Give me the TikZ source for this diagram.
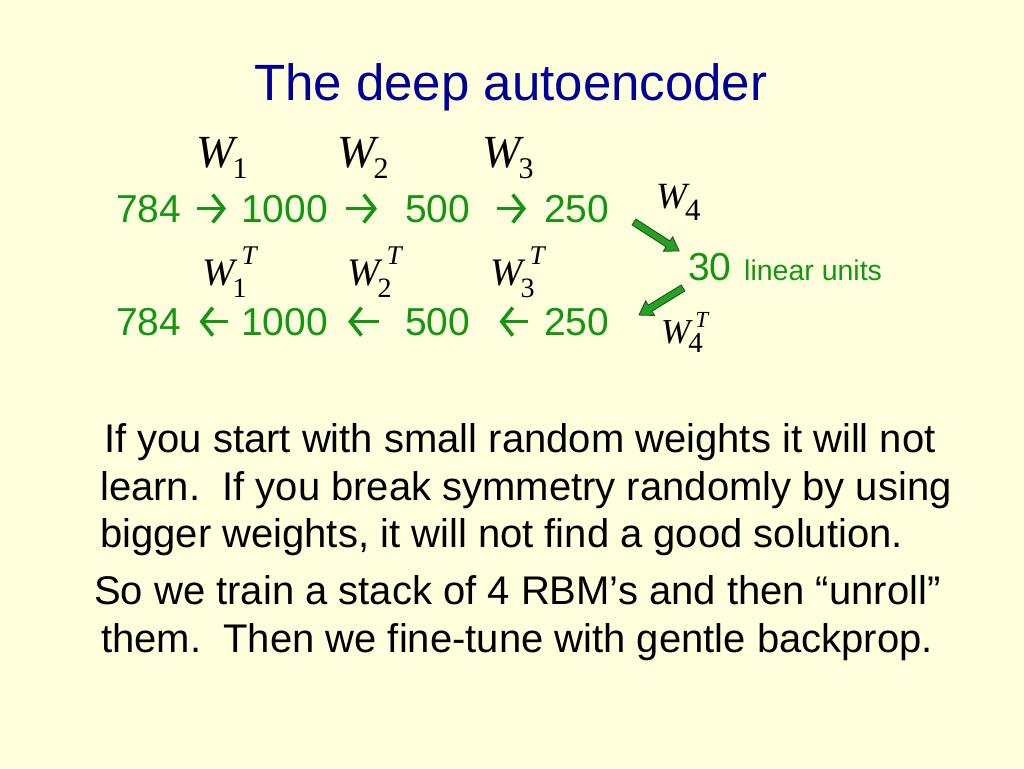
\documentclass[tikz,border=0pt]{standalone}
\usepackage{fontspec}
\setmainfont{Liberation Sans}
\newfontfamily\serif{Liberation Serif}
\usetikzlibrary{arrows.meta,calc}
\definecolor{bg}{RGB}{255,255,221}
\definecolor{ttl}{RGB}{0,0,153}
\definecolor{grn}{RGB}{20,150,20}
\definecolor{grnfill}{RGB}{40,160,40}
\definecolor{grnline}{RGB}{20,90,20}
% W label: #1 W size, #2 sub size, #3 sub drop, #4 sub, #5 sup size, #6 sup raise, #7 sup, #8 kern before sup
\newcommand{\Wm}[8]{{\serif\fontsize{#1}{#1}\selectfont\itshape W}\kern-2pt\rlap{\raisebox{-#3}{\serif\fontsize{#2}{#2}\selectfont #4}}\kern #8\raisebox{#6}{\serif\fontsize{#5}{#5}\selectfont\itshape #7}}
\newcommand{\blockarrow}[2]{%
  \coordinate (hb) at ($(#2)!13pt!(#1)$);
  \filldraw[blockarr] ($(#1)!3.5pt!90:(#2)$) -- ($(hb)!3.5pt!-90:(#1)$) -- ($(hb)!8.5pt!-90:(#1)$) -- (#2)
    -- ($(hb)!8.5pt!90:(#1)$) -- ($(hb)!3.5pt!90:(#1)$) -- ($(#1)!3.5pt!-90:(#2)$) -- cycle;}
\tikzset{
  num/.style={anchor=base west, inner sep=0pt, text=grn, font=\fontsize{39pt}{39pt}\selectfont},
  wl/.style={anchor=base west, inner sep=0pt},
  body/.style={anchor=base west, inner sep=0pt, font=\fontsize{40pt}{48pt}\selectfont},
  arr/.style={draw=grn, line width=3.8pt, -{Straight Barb[length=11pt,width=28pt,line width=3.6pt]}},
  blockarr/.style={fill=grnfill, draw=grnline, line width=0.9pt, line join=miter}
}
\begin{document}
\begin{tikzpicture}[x=1pt,y=-1pt]
\fill[bg] (0,0) rectangle (1024,768);
\useasboundingbox (0,0) rectangle (1024,768);
% title
\node[anchor=base west, inner sep=0pt, text=ttl, font=\fontsize{51pt}{51pt}\selectfont] (title) at (254,100) {The deep autoencoder};
% weight labels, top row
\node[wl] (w1) at (196,167) {\Wm{46pt}{30pt}{11pt}{1}{20pt}{0pt}{}{0pt}};
\node[wl] (w2) at (337,167) {\Wm{46pt}{30pt}{11pt}{2}{20pt}{0pt}{}{0pt}};
\node[wl] (w3) at (482,167) {\Wm{46pt}{30pt}{11pt}{3}{20pt}{0pt}{}{0pt}};
% encoder row
\node[num] (n1) at (116,222) {784};
\node[num] (n2) at (241,222) {1000};
\node[num] (n3) at (405,222) {500};
\node[num] (n4) at (544,222) {250};
\draw[arr, shorten <=16pt, shorten >=15pt] (n1.east) -- (n2.west);
\draw[arr, shorten <=18pt, shorten >=28pt] (n2.east) -- (n3.west);
\draw[arr, shorten <=27pt, shorten >=18pt] (n3.east) -- (n4.west);
% transposed labels
\node[wl] (wt1) at (202,285) {\Wm{39pt}{28pt}{12pt}{1}{27pt}{21pt}{T}{9pt}};
\node[wl] (wt2) at (347,285) {\Wm{39pt}{28pt}{12pt}{2}{27pt}{21pt}{T}{9pt}};
\node[wl] (wt3) at (490,285) {\Wm{39pt}{28pt}{12pt}{3}{27pt}{21pt}{T}{9pt}};
% decoder row
\node[num] (m1) at (116,335) {784};
\node[num] (m2) at (241,335) {1000};
\node[num] (m3) at (405,335) {500};
\node[num] (m4) at (544,335) {250};
\draw[arr, shorten <=13pt, shorten >=18pt] (m2.west) -- (m1.east);
\draw[arr, shorten <=26pt, shorten >=20pt] (m3.west) -- (m2.east);
\draw[arr, shorten <=16pt, shorten >=29pt] (m4.west) -- (m3.east);
% code layer
\node[wl] (w4) at (656,208) {\Wm{37pt}{31pt}{12pt}{4}{20pt}{0pt}{}{0pt}};
\node[num] (c30) at (688,280) {30};
\node[anchor=base west, inner sep=0pt, text=grn, font=\fontsize{28.5pt}{28.5pt}\selectfont] (lin) at (744,280) {linear units};
\node[wl] (wt4) at (661,343) {\Wm{35pt}{29pt}{9pt}{4}{23pt}{16pt}{T}{7pt}};
\coordinate (p1) at (634,222);
\coordinate (p2) at (679,251);
\coordinate (q1) at (683,288);
\coordinate (q2) at (639,315);
\blockarrow{p1}{p2}
\blockarrow{q1}{q2}
% body text
\node[body] (l1) at (104,452) {If you start with small random weights it will not};
\node[body] (l2) at (100,500) {learn.\ \ If you break symmetry randomly by using};
\node[body] (l3) at (100,547) {bigger weights, it will not find a good solution.};
\node[body] (l4) at (94,604) {So we train a stack of 4 RBM’s and then “unroll”};
\node[body] (l5) at (101,652) {them.\ \ Then we fine-tune with gentle backprop.};
\end{tikzpicture}
\end{document}
